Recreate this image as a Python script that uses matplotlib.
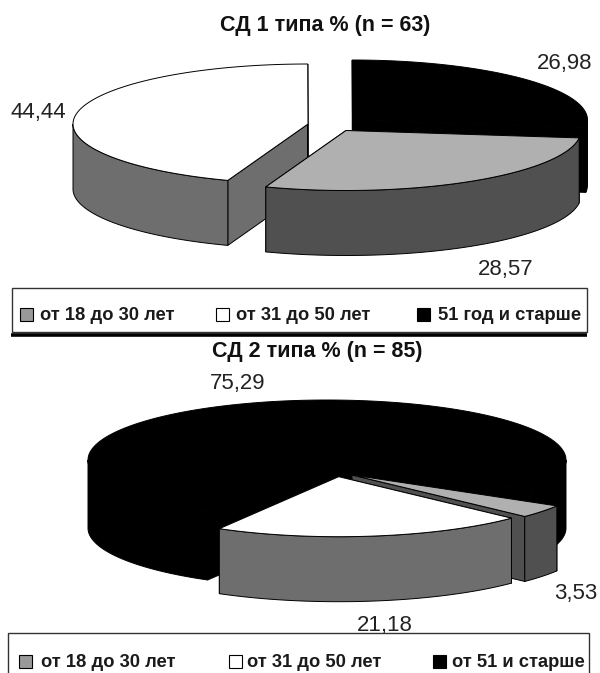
import numpy as np
import matplotlib
matplotlib.use("Agg")
import matplotlib.pyplot as plt
from matplotlib.patches import Polygon, Rectangle

plt.rcParams['font.family'] = ['Liberation Sans', 'DejaVu Sans']

title_1 = "СД 1 типа % (n = 63)"
title_2 = "СД 2 типа % (n = 85)"
values_1 = [28.57, 44.44, 26.98]
values_2 = [3.53, 21.18, 75.29]
legend_1 = ["от 18 до 30 лет", "от 31 до 50 лет", "51 год и старше"]
legend_2 = ["от 18 до 30 лет", "от 31 до 50 лет", "от 51 и старше"]

top_colors = ["#b0b0b0", "#ffffff", "#000000"]
side_colors = ["#505050", "#6e6e6e", "#000000"]
swatch_colors = ["#999999", "#ffffff", "#000000"]
RY = 60


def point(cx, cy, rx, t):
    t = np.radians(t)
    return np.column_stack([cx + rx * np.sin(t), cy - RY * np.cos(t)])


def draw_slice(ax, cx, cy, rx, a0, a1, top, side, depth):
    drop = np.array([0, depth])
    apex = np.array([[cx, cy]])
    arc = point(cx, cy, rx, np.linspace(a0, a1, 200))

    # cut faces
    for corner in (arc[:1], arc[-1:]):
        face = np.vstack([apex, corner, corner + drop, apex + drop])
        ax.add_patch(Polygon(face, fc=side, ec="black", lw=0.7))

    # outer wall, only the front half of the rim shows
    for k in (0, 1):
        lo = max(a0, 90 + 360 * k)
        hi = min(a1, 270 + 360 * k)
        if lo < hi:
            rim = point(cx, cy, rx, np.linspace(lo, hi, 200))
            wall = np.vstack([rim, (rim + drop)[::-1]])
            ax.add_patch(Polygon(wall, fc=side, ec="black", lw=0.7))

    ax.add_patch(Polygon(np.vstack([apex, arc]), fc=top, ec="black", lw=0.7))


def draw_pie(ax, values, start, rx, centers, depths, order):
    edges = start + np.cumsum([0] + list(values)) * 3.6
    for i in order:
        draw_slice(ax, centers[i][0], centers[i][1], rx, edges[i], edges[i + 1],
                   top_colors[i], side_colors[i], depths[i])


def value_text(v):
    return f"{v:.2f}".replace(".", ",")


def draw_legend(ax, names, swatch_x, text_x, swatch_y, text_y):
    for i in range(3):
        ax.add_patch(Rectangle((swatch_x[i], swatch_y), 13, 13, fc=swatch_colors[i],
                               ec="black", lw=0.8, zorder=6))
        ax.text(text_x[i], text_y, names[i], fontsize=13.2, fontweight="bold", color="#1a1a1a",
                va="center", ha="left", zorder=6)


fig = plt.figure(figsize=(6, 6.73), dpi=100)
ax = fig.add_axes([0, 0, 1, 1])
ax.set_xlim(0, 600)
ax.set_ylim(673, 0)
ax.axis("off")

# upper chart
draw_pie(ax, values_1, 97.1, 235, [(346, 130.5), (308, 124), (352.5, 120)], [65, 65, 65], [2, 1, 0])
ax.text(325, 26, title_1, fontsize=15.5, fontweight="bold", ha="center", va="center", color="#111111")
label_pos_1 = [(506, 269.5), (38, 112.5), (564.5, 64)]
for v, pos in zip(values_1, label_pos_1):
    ax.text(pos[0], pos[1], value_text(v), fontsize=16, ha="center", va="center", color="#222222")

ax.add_patch(Rectangle((11.5, 288), 575, 44, fc="white", ec="#333333", lw=1))
ax.plot([11, 587], [334.5, 334.5], color="black", lw=2.6, solid_capstyle="butt")
draw_legend(ax, legend_1, [20, 216, 417], [40, 236, 438], 308, 315.5)

# lower chart
draw_pie(ax, values_2, 121, 239, [(352, 475), (338.7, 476.7), (327, 460)], [65, 65, 68], [2, 0, 1])
ax.text(317, 351, title_2, fontsize=15.5, fontweight="bold", ha="center", va="center", color="#111111")
label_pos_2 = [(576, 593.5), (384.5, 625.5), (238, 384)]
for v, pos in zip(values_2, label_pos_2):
    ax.text(pos[0], pos[1], value_text(v), fontsize=16, ha="center", va="center", color="#222222")

ax.add_patch(Rectangle((7.5, 632.5), 581, 60, fc="white", ec="#333333", lw=1, zorder=5))
draw_legend(ax, legend_2, [19, 229, 433], [41, 247, 451.5], 655, 662.5)

fig.savefig("out.png", dpi=100)
plt.close(fig)
